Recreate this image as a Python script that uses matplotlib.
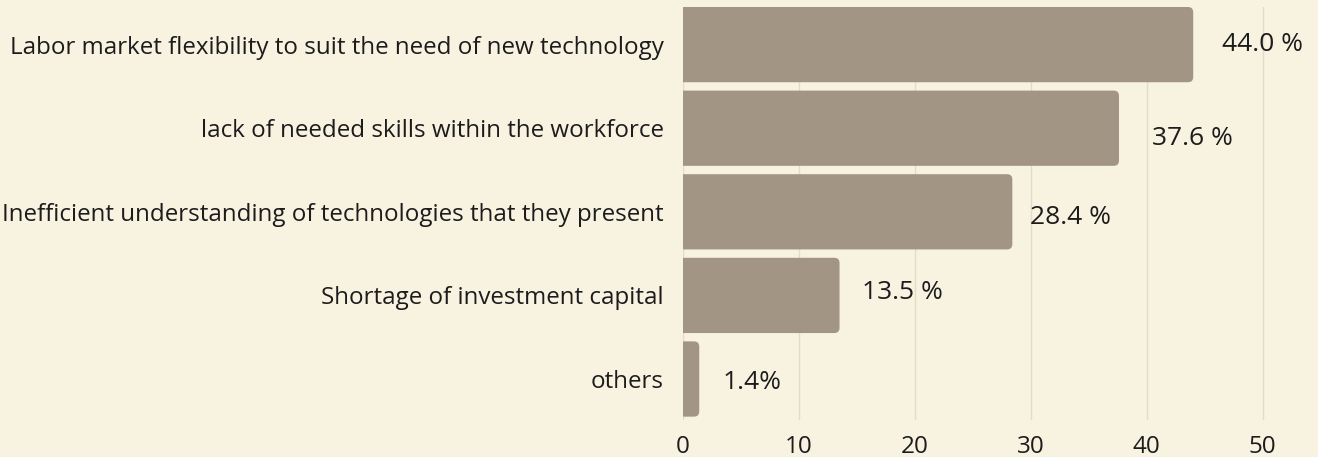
import matplotlib.pyplot as plt
from matplotlib.patches import FancyBboxPatch

categories = [
    "Labor market flexibility to suit the need of new technology",
    "lack of needed skills within the workforce",
    "Inefficient understanding of technologies that they present",
    "Shortage of investment capital",
    "others",
]
values = [44.0, 37.6, 28.4, 13.5, 1.4]
value_labels = ["44.0 %", "37.6 %", "28.4 %", "13.5 %", "1.4%"]
xticks = [0, 10, 20, 30, 40, 50]

BG = "#f8f2e1"
BAR = "#a39583"
GRID = "#e2dcc8"
TEXT = "#1c1c1c"

# the value labels in the original sit a bit irregularly (pixels: right, down)
label_dx = [29, 33, 18, 22, 23]
label_dy = [0, 10, 6, -3, 3]

plt.rcParams['font.family'] = ['Open Sans', 'DejaVu Sans']

fig = plt.figure(figsize=(13.18, 4.57), dpi=100, facecolor=BG)
ax = fig.add_axes([0.5182, 0.081, 0.4575, 0.9037], facecolor=BG)

ypos = list(range(len(categories)))
bars = ax.barh(ypos, values, height=0.9, color=BAR)

# swap plain bars for ones with rounded right corners
for b in bars:
    x0, y0, w, h = b.get_x(), b.get_y(), b.get_width(), b.get_height()
    b.remove()
    p = FancyBboxPatch((x0 - 1, y0), w + 1, h,
                       boxstyle="round,pad=0,rounding_size=0.45",
                       mutation_aspect=0.14, facecolor=BAR, edgecolor='none',
                       zorder=2)
    ax.add_patch(p)

for y, v, lab, dx, dy in zip(ypos, values, value_labels, label_dx, label_dy):
    ax.annotate(lab, (v, y), xytext=(dx * 0.72, -dy * 0.72),
                textcoords='offset points', va='center', ha='left',
                fontsize=19, color=TEXT, zorder=3)

ax.set_xlim(0, 52)
ax.set_ylim(4.49, -0.45)
ax.set_yticks(ypos)
ax.set_yticklabels(categories, fontsize=17.4, color=TEXT)
ax.set_xticks(xticks)
ax.set_xticklabels([str(t) for t in xticks], fontsize=17.5, color=TEXT)
ax.tick_params(axis='both', length=0)
ax.tick_params(axis='y', pad=14)
ax.tick_params(axis='x', pad=11)
ax.grid(axis='x', color=GRID, linewidth=1, zorder=0)
ax.set_axisbelow(True)
for s in ax.spines.values():
    s.set_visible(False)

fig.savefig("out.png", dpi=100, facecolor=BG)
